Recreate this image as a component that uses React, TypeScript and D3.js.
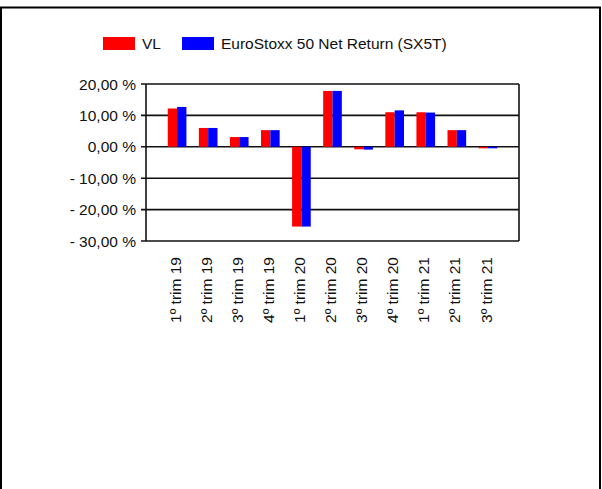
import React from 'react';
import * as d3 from 'd3';

const categories = ['1º trim 19', '2º trim 19', '3º trim 19', '4º trim 19', '1º trim 20', '2º trim 20', '3º trim 20', '4º trim 20', '1º trim 21', '2º trim 21', '3º trim 21'];
const vl = [12.2, 6.0, 3.1, 5.3, -25.4, 17.8, -0.8, 11.0, 11.0, 5.3, -0.4];
const sx5t = [12.7, 6.0, 3.1, 5.3, -25.4, 17.8, -0.9, 11.6, 10.9, 5.3, -0.3];
const yTicks = [20, 10, 0, -10, -20, -30];
const seriesNames = ['VL', 'EuroStoxx 50 Net Return (SX5T)'];
const seriesColors = ['#ff0000', '#0000ff'];

const W = 602;
const H = 489;
const font = '"Liberation Sans", Arial, sans-serif';

const fmt = (v: number) => {
  const s = Math.abs(v).toFixed(2).replace('.', ',');
  return (v < 0 ? '- ' : '') + s + ' %';
};

export default function App() {
  const left = 146, right = 519, top = 84, bottom = 241;

  const x = d3.scalePoint<string>().domain(categories).range([left, right]).padding(1);
  const y = d3.scaleLinear().domain([-30, 20]).range([bottom, top]);
  const barW = x.step() * 0.3;
  const series = [vl, sx5t];

  return (
    <svg width={W} height={H} style={{ position: 'absolute', left: 0, top: 0, background: '#fff' }} fontFamily={font}>
      {/* outer frame */}
      <rect x={1} y={7.5} width={599} height={H + 10} fill="none" stroke="#000" strokeWidth={2} />

      {/* legend */}
      <g>
        <rect x={103} y={37} width={32} height={13} fill={seriesColors[0]} />
        <text x={142} y={49} fontSize={15.5} fill="#111">{seriesNames[0]}</text>
        <rect x={182} y={37} width={32} height={13} fill={seriesColors[1]} />
        <text x={221} y={49} fontSize={15.5} fill="#111">{seriesNames[1]}</text>
      </g>

      {/* grid + y axis */}
      {yTicks.map((t) => (
        <g key={t}>
          <line x1={left - 5} x2={right} y1={y(t)} y2={y(t)} stroke="#111" strokeWidth={1.6} />
          <text x={136} y={y(t)} dy="0.36em" textAnchor="end" fontSize={15.5} fill="#111">{fmt(t)}</text>
        </g>
      ))}
      <line x1={left} x2={left} y1={top} y2={bottom} stroke="#111" strokeWidth={1.6} />
      <line x1={right} x2={right} y1={top} y2={bottom} stroke="#111" strokeWidth={1.6} />

      {/* bars */}
      {series.map((vals, si) => (
        <g key={si} fill={seriesColors[si]}>
          {vals.map((v, i) => {
            const cx = x(categories[i]) as number;
            const x0 = cx - barW + si * barW;
            const y0 = Math.min(y(v), y(0));
            const h = Math.max(Math.abs(y(v) - y(0)), 1.5);
            return <rect key={i} x={x0} y={y0} width={barW} height={h} />;
          })}
        </g>
      ))}

      {/* x labels */}
      {categories.map((c) => {
        const cx = (x(c) as number) - 2;
        return (
          <text key={c} transform={`translate(${cx},257) rotate(-90)`} dy="0.36em" textAnchor="end" fontSize={15.5} fill="#111">{c}</text>
        );
      })}
    </svg>
  );
}
